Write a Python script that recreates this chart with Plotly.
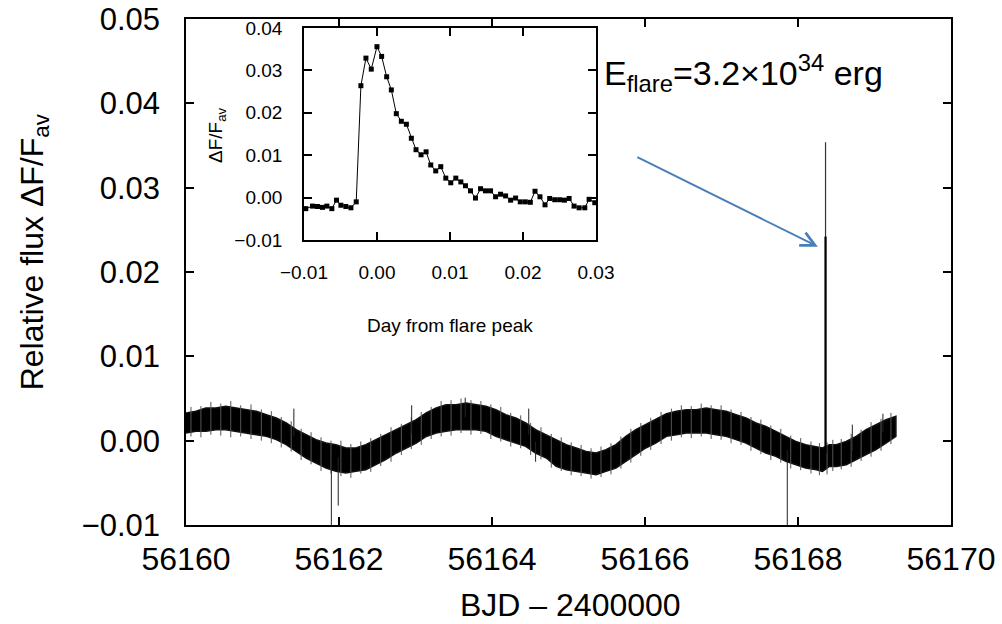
import plotly.graph_objects as go

# ---------------- main light curve (envelope of the dense band) ----------------
t_env = [56160.00, 56160.13, 56160.26, 56160.39, 56160.52, 56160.65, 56160.78, 56160.92,
         56161.05, 56161.18, 56161.31, 56161.44, 56161.57, 56161.70, 56161.83, 56161.96,
         56162.09, 56162.22, 56162.35, 56162.48, 56162.61, 56162.75, 56162.88, 56163.01,
         56163.14, 56163.27, 56163.40, 56163.53, 56163.66, 56163.79, 56163.92, 56164.05,
         56164.18, 56164.31, 56164.44, 56164.57, 56164.71, 56164.84, 56164.97, 56165.10,
         56165.23, 56165.36, 56165.49, 56165.62, 56165.75, 56165.88, 56166.01, 56166.14,
         56166.28, 56166.41, 56166.54, 56166.67, 56166.80, 56166.93, 56167.06, 56167.19,
         56167.32, 56167.45, 56167.58, 56167.71, 56167.84, 56167.97, 56168.10, 56168.24,
         56168.32, 56168.41, 56168.50, 56168.63, 56168.76, 56168.89, 56169.02, 56169.15,
         56169.28]
top_env = [0.00328, 0.00348, 0.00388, 0.00388, 0.00407, 0.00388, 0.00368, 0.00348,
           0.00308, 0.00269, 0.00210, 0.00130, 0.00071, 0.00012, -0.00028, -0.00047,
           -0.00087, -0.00087, -0.00047, 0.00012, 0.00071, 0.00130, 0.00190, 0.00249,
           0.00330, 0.00388, 0.00427, 0.00427, 0.00447, 0.00427, 0.00407, 0.00368,
           0.00308, 0.00269, 0.00210, 0.00130, 0.00071, 0.00012, -0.00047, -0.00087,
           -0.00127, -0.00146, -0.00107, -0.00047, 0.00051, 0.00130, 0.00190, 0.00249,
           0.00320, 0.00348, 0.00368, 0.00368, 0.00388, 0.00368, 0.00348, 0.00308,
           0.00269, 0.00210, 0.00170, 0.00111, 0.00051, -0.00008, -0.00047, -0.00067,
           -0.00087, -0.00047, -0.00047, -0.00008, 0.00051, 0.00130, 0.00190, 0.00249,
           0.00289]
bot_env = [0.00091, 0.00111, 0.00111, 0.00130, 0.00130, 0.00111, 0.00091, 0.00071,
           0.00051, 0.00012, -0.00047, -0.00127, -0.00206, -0.00265, -0.00324, -0.00364,
           -0.00384, -0.00364, -0.00344, -0.00285, -0.00225, -0.00146, -0.00087, -0.00028,
           0.00050, 0.00091, 0.00111, 0.00130, 0.00130, 0.00130, 0.00111, 0.00051,
           0.00012, -0.00028, -0.00067, -0.00146, -0.00206, -0.00305, -0.00344, -0.00364,
           -0.00384, -0.00403, -0.00364, -0.00324, -0.00245, -0.00166, -0.00087, -0.00028,
           0.00051, 0.00071, 0.00091, 0.00091, 0.00091, 0.00071, 0.00051, 0.00012,
           -0.00028, -0.00087, -0.00146, -0.00186, -0.00245, -0.00285, -0.00324, -0.00344,
           -0.00364, -0.00305, -0.00305, -0.00285, -0.00225, -0.00166, -0.00107, -0.00028,
           0.00051]

# scatter of the noise just outside the dense band (time, low, high)
fuzz_t = [56160.065, 56160.195, 56160.325, 56160.455, 56160.585, 56160.715, 56160.850,
          56160.985, 56161.115, 56161.245, 56161.375, 56161.505, 56161.635, 56161.765,
          56161.895, 56162.025, 56162.155, 56162.285, 56162.415, 56162.545, 56162.680,
          56162.815, 56162.945, 56163.075, 56163.205, 56163.335, 56163.465, 56163.595,
          56163.725, 56163.855, 56163.985, 56164.115, 56164.245, 56164.375, 56164.505,
          56164.640, 56164.775, 56164.905, 56165.035, 56165.165, 56165.295, 56165.425,
          56165.555, 56165.685, 56165.815, 56165.945, 56166.075, 56166.210, 56166.345,
          56166.475, 56166.605, 56166.735, 56166.865, 56166.995, 56167.125, 56167.255,
          56167.385, 56167.515, 56167.645, 56167.775, 56167.905, 56168.035, 56168.170,
          56168.280, 56168.380, 56168.455, 56168.565, 56168.695, 56168.825, 56168.955,
          56169.085, 56169.215]
fuzz_hi = [0.0040, 0.0041, 0.0046, 0.0044, 0.0047, 0.0042, 0.0043, 0.0037, 0.0035, 0.0028,
           0.0023, 0.0014, 0.0010, 0.0004, 0.0000, 0.0000, -0.0004, -0.0001, 0.0003, 0.0008,
           0.0016, 0.0020, 0.0028, 0.0034, 0.0040, 0.0047, 0.0048, 0.0050, 0.0048, 0.0047,
           0.0043, 0.0040, 0.0033, 0.0030, 0.0021, 0.0016, 0.0008, 0.0004, -0.0002, -0.0005,
           -0.0009, -0.0007, -0.0003, 0.0005, 0.0014, 0.0021, 0.0027, 0.0034, 0.0038, 0.0042,
           0.0041, 0.0044, 0.0042, 0.0042, 0.0037, 0.0034, 0.0028, 0.0025, 0.0018, 0.0014,
           0.0006, 0.0003, -0.0001, -0.0003, -0.0002, 0.0001, 0.0002, 0.0008, 0.0013, 0.0022,
           0.0026, 0.0033]
fuzz_lo = [0.0005, 0.0004, 0.0007, 0.0006, 0.0004, 0.0005, 0.0002, 0.0000, -0.0003, -0.0008,
           -0.0013, -0.0023, -0.0028, -0.0036, -0.0039, -0.0042, -0.0044, -0.0039, -0.0037,
           -0.0030, -0.0025, -0.0017, -0.0010, -0.0005, 0.0002, 0.0005, 0.0006, 0.0009,
           0.0007, 0.0008, 0.0002, -0.0001, -0.0007, -0.0009, -0.0017, -0.0022, -0.0032,
           -0.0036, -0.0041, -0.0042, -0.0045, -0.0043, -0.0040, -0.0033, -0.0026, -0.0018,
           -0.0011, -0.0004, 0.0000, 0.0004, 0.0003, 0.0005, 0.0002, 0.0001, -0.0003,
           -0.0005, -0.0012, -0.0016, -0.0023, -0.0026, -0.0033, -0.0035, -0.0039, -0.0041,
           -0.0040, -0.0036, -0.0034, -0.0031, -0.0024, -0.0019, -0.0012, -0.0004]

# isolated outliers (time, base of spike, extreme value)
spike_t = [56161.41, 56161.90, 56161.99, 56162.95, 56163.65, 56164.48, 56164.57,
           56167.86, 56168.71, 56169.11]
spike_base = [0.0005, -0.0020, -0.0020, 0.0008, 0.0028, 0.0007, -0.0001,
              -0.0011, -0.0012, 0.0010]
spike_val = [0.0038, -0.0110, -0.0077, 0.0042, 0.0051, 0.0038, -0.0025,
             -0.0110, 0.0019, 0.0032]

# the flare in the full light curve
flare_t = 56168.36
flare_base = -0.0015
flare_peak = 0.0354
flare_bright = 0.0242

# ---------------- inset: flare profile ----------------
inset_day = [-0.00975, -0.00883, -0.00815, -0.00746, -0.00686, -0.00618, -0.00554, -0.00494,
             -0.00426, -0.00357, -0.00284, -0.00220, -0.00151, -0.00078, 0.0, 0.00064,
             0.00133, 0.00197, 0.00265, 0.00334, 0.00403, 0.00471, 0.00535, 0.00604,
             0.00673, 0.00737, 0.00805, 0.00874, 0.00943, 0.01011, 0.01080, 0.01149,
             0.01213, 0.01281, 0.01350, 0.01419, 0.01487, 0.01556, 0.01625, 0.01693,
             0.01762, 0.01831, 0.01899, 0.01963, 0.02032, 0.02101, 0.02165, 0.02233,
             0.02302, 0.02366, 0.02435, 0.02503, 0.02568, 0.02632, 0.02700, 0.02769,
             0.02847, 0.02906, 0.02984]
inset_flux = [-0.0026, -0.0020, -0.0021, -0.0023, -0.0020, -0.0026, -0.0006, -0.0018,
              -0.0021, -0.0024, -0.0010, 0.0264, 0.0329, 0.0303, 0.0356, 0.0333,
              0.0285, 0.0254, 0.0198, 0.0180, 0.0173, 0.0140, 0.0113, 0.0101,
              0.0108, 0.0077, 0.0063, 0.0073, 0.0046, 0.0035, 0.0046, 0.0037,
              0.0028, 0.0016, -0.0001, 0.0021, 0.0016, 0.0016, 0.0002, 0.0008,
              0.0004, -0.0006, -0.0001, -0.0010, -0.0010, -0.0011, 0.0015, 0.0002,
              -0.0017, -0.0002, -0.0005, -0.0005, -0.0006, -0.0002, -0.0020, -0.0024,
              -0.0024, -0.0004, -0.0012]

main_xticks = [56160, 56162, 56164, 56166, 56168, 56170]
main_yticks = [-0.01, 0.0, 0.01, 0.02, 0.03, 0.04, 0.05]
inset_xticks = [-0.01, 0.0, 0.01, 0.02, 0.03]
inset_yticks = [-0.01, 0.0, 0.01, 0.02, 0.03, 0.04]

FONT = "Liberation Sans, Arial, sans-serif"
ARROW_BLUE = "#4a7ebb"

fig = go.Figure()

# dense band
fig.add_trace(go.Scatter(
    x=t_env + t_env[::-1], y=top_env + bot_env[::-1],
    fill="toself", fillcolor="black", mode="lines",
    line=dict(color="#111", width=1.5), hoverinfo="skip", showlegend=False,
    xaxis="x", yaxis="y"))

# noise fuzz around the band
fx, fy = [], []
for t, lo, hi in zip(fuzz_t, fuzz_lo, fuzz_hi):
    fx += [t, t, None]
    fy += [lo, hi, None]
fig.add_trace(go.Scatter(x=fx, y=fy, mode="lines", line=dict(color="#555", width=1),
                         showlegend=False, hoverinfo="skip", xaxis="x", yaxis="y"))

# outlier spikes
sx, sy = [], []
for t, b, v in zip(spike_t, spike_base, spike_val):
    sx += [t, t, None]
    sy += [b, v, None]
fig.add_trace(go.Scatter(x=sx, y=sy, mode="lines", line=dict(color="#222", width=1),
                         showlegend=False, hoverinfo="skip", xaxis="x", yaxis="y"))

# flare spike
fig.add_trace(go.Scatter(x=[flare_t, flare_t], y=[flare_base, flare_peak], mode="lines",
                         line=dict(color="#333", width=1.2), showlegend=False,
                         xaxis="x", yaxis="y"))
fig.add_trace(go.Scatter(x=[flare_t, flare_t], y=[flare_base, flare_bright], mode="lines",
                         line=dict(color="black", width=2.2), showlegend=False,
                         xaxis="x", yaxis="y"))

# inset profile
fig.add_trace(go.Scatter(x=inset_day, y=inset_flux, mode="lines+markers",
                         line=dict(color="black", width=1),
                         marker=dict(symbol="square", size=5, color="black"),
                         showlegend=False, xaxis="x2", yaxis="y2"))

axis_common = dict(showgrid=False, zeroline=False, showline=True, linecolor="black",
                   linewidth=1.5, mirror="ticks", ticks="inside", tickcolor="black",
                   tickwidth=1.5, automargin=False)

fig.update_layout(
    width=1002, height=624,
    margin=dict(l=186, r=51, t=19, b=99),
    paper_bgcolor="white", plot_bgcolor="white",
    font=dict(family=FONT, color="black"),
    xaxis=dict(range=[56160, 56170], tickvals=main_xticks, tickformat="d",
               ticklen=8, tickfont=dict(size=32), ticklabelstandoff=5, **axis_common),
    yaxis=dict(range=[-0.01, 0.05], tickvals=main_yticks, tickformat=".2f",
               ticklen=8, tickfont=dict(size=31), ticklabelstandoff=18, **axis_common),
    xaxis2=dict(domain=[0.1542, 0.5359], anchor="y2", range=[-0.01, 0.03],
                tickvals=inset_xticks, tickformat=".2f", ticklen=8,
                tickfont=dict(size=19), ticklabelstandoff=14, **axis_common),
    yaxis2=dict(domain=[0.5632, 0.9822], anchor="x2", range=[-0.01, 0.04],
                tickvals=inset_yticks, tickformat=".2f", ticklen=8,
                tickfont=dict(size=19), ticklabelstandoff=16, **axis_common),
)

annotations = [
    dict(text="BJD – 2400000", xref="paper", yref="paper", x=0.502, y=-0.158,
         xanchor="center", yanchor="middle", showarrow=False, font=dict(size=32)),
    dict(text="Relative flux ΔF/F<sub>av</sub>", xref="paper", yref="paper",
         x=-0.198, y=0.54, xanchor="center", yanchor="middle", textangle=-90,
         showarrow=False, font=dict(size=32)),
    dict(text="Day from flare peak", xref="paper", yref="paper", x=0.345, y=0.395,
         xanchor="center", yanchor="middle", showarrow=False, font=dict(size=19)),
    dict(text="ΔF/F<sub>av</sub>", xref="paper", yref="paper", x=0.0405, y=0.7708,
         xanchor="center", yanchor="middle", textangle=-90, showarrow=False,
         font=dict(size=19)),
    dict(text="E<sub>flare</sub>=3.2×10<sup>34</sup> erg", xref="paper", yref="paper",
         x=0.544, y=0.894, xanchor="left", yanchor="middle", showarrow=False,
         font=dict(size=34)),
    dict(x=56168.26, y=0.0230, ax=56165.88, ay=0.0337, xref="x", yref="y",
         axref="x", ayref="y", text="", showarrow=True, arrowhead=5, arrowsize=1.4,
         arrowwidth=2, arrowcolor=ARROW_BLUE),
]
fig.update_layout(annotations=annotations)

fig.write_html("out.html")
